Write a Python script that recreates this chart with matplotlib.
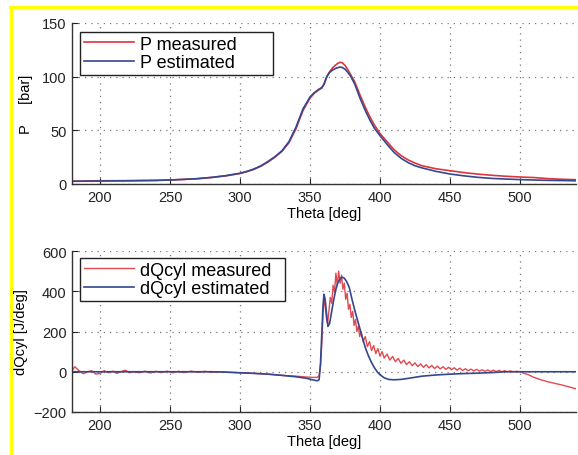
import numpy as np
import matplotlib
matplotlib.use('Agg')
import matplotlib.pyplot as plt
from matplotlib.lines import Line2D

plt.rcParams['font.family'] = ['Liberation Sans', 'DejaVu Sans']

# top plot: cylinder pressure [bar] vs crank angle [deg]
theta_p = [180, 200, 220, 240, 250, 260, 270, 280, 290, 300, 305, 310, 315, 320,
           325, 330, 335, 340, 345, 350, 353, 356, 358.5, 360, 362, 364, 366, 368,
           370, 371.5, 373, 375, 377, 379, 382, 386, 390, 393, 396, 400, 405, 410,
           415, 420, 425, 430, 440, 450, 460, 470, 480, 490, 500, 510, 520, 530, 540]
p_meas = [2.6, 3.0, 3.1, 3.4, 3.8, 4.3, 5.0, 6.1, 7.6, 9.8, 11.5, 13.7, 16.6, 20.5,
          25.0, 30.5, 38.5, 51.5, 68.5, 80.0, 84.5, 87.5, 89.5, 93.0, 100.0, 104.5, 108.0, 110.5,
          112.5, 113.4, 113.0, 110.5, 106.5, 102.0, 95.0, 82.0, 70.0, 62.0, 55.0, 47.0, 39.5, 32.0,
          26.5, 22.5, 19.5, 17.0, 14.2, 12.4, 10.6, 9.2, 8.1, 7.2, 6.5, 6.0, 5.0, 4.4, 4.0]
p_est = [2.5, 2.8, 3.0, 3.3, 3.7, 4.3, 5.0, 6.2, 7.8, 10.0, 11.8, 14.0, 17.0, 21.0,
         25.5, 31.0, 39.5, 53.0, 70.0, 81.0, 85.0, 88.0, 90.0, 93.0, 100.0, 104.0, 106.0, 107.5,
         108.5, 109.0, 108.5, 107.0, 104.0, 100.5, 93.0, 79.0, 67.0, 59.0, 52.0, 45.0, 37.0, 29.5,
         24.0, 20.0, 17.0, 15.0, 11.8, 9.3, 7.6, 6.2, 5.2, 4.6, 4.1, 3.7, 3.4, 3.2, 3.0]

# bottom plot: heat release rate [J/deg]
theta_qe = [180, 200, 220, 240, 260, 280, 290, 300, 310, 320, 330, 340, 347, 352, 355,
            356.5, 357.5, 358.5, 359.3, 360, 360.8, 361.8, 362.8, 364, 365.5, 367, 368.5,
            370, 371.5, 373, 374.5, 376, 378, 380, 382, 384, 386, 388, 390, 392, 394, 396,
            398, 400, 403, 406, 410, 415, 420, 430, 440, 450, 460, 470, 480, 490, 500, 520, 540]
dq_est = [0, 0, 0, 0, 0, 0, -2, -5, -8, -12, -18, -25, -32, -40, -45,
          -40, 40, 200, 330, 385, 360, 290, 225, 240, 300, 360, 410,
          445, 462, 470, 465, 450, 420, 360, 305, 255, 205, 155, 110, 75, 45, 20,
          0, -15, -30, -38, -40, -38, -33, -22, -16, -12, -9, -7, -4, 0, 0, 0, 0]

theta_qm = [180, 182, 185, 188, 191, 194, 197, 200, 203, 206, 209, 212, 215, 218, 221,
            224, 228, 232, 236, 240, 244, 248, 252, 256, 260, 265, 270, 275, 280, 285,
            290, 300, 310, 320, 330, 340, 347, 352, 355, 356.5, 357.5, 358.5, 359.3, 360,
            360.8, 361.8, 362.5, 363.5, 364.5, 365.5, 366.5, 367.5, 368.5, 369.5, 370.5,
            371.5, 372.5, 373.5, 374.5, 375.5, 376.5, 377.5, 378.5, 379.5, 380.5, 381.5,
            382.5, 383.5, 384.5, 385.5, 386.5, 388, 389.5, 391, 392.5, 394, 395.5, 397,
            398.5, 400, 401.5, 403, 405, 407, 409, 411, 413, 415, 417, 419, 421, 423, 425,
            427, 429, 431, 433, 435, 437, 439, 441, 443, 445, 447, 449, 451, 453, 455, 457,
            459, 461, 463, 465, 467, 469, 471, 473, 475, 477, 479, 481, 483, 485, 487, 489,
            491, 493, 495, 498, 500, 503, 506, 510, 515, 520, 525, 530, 535, 540]
dq_meas = [5, 25, 5, -10, 0, 5, -12, -8, 5, -5, 3, -8, 0, 8, -5,
           0, -5, 3, -6, 2, -4, 3, -5, 2, -4, 3, -3, 2, -3, 0,
           -2, -5, -8, -12, -18, -22, -26, -28, -28, -20, 30, 150, 290, 355,
           330, 260, 240, 300, 370, 340, 430, 395, 490, 430, 500,
           440, 480, 410, 440, 360, 390, 310, 335, 270, 300, 230,
           260, 200, 225, 175, 200, 150, 175, 125, 150, 105, 130, 90,
           115, 78, 100, 68, 88, 58, 76, 50, 66, 42, 58, 36, 50, 30, 44,
           26, 39, 22, 35, 19, 31, 16, 28, 14, 25, 12, 22, 10, 20, 8, 18,
           6, 15, 5, 13, 4, 12, 3, 10, 2, 9, 1, 8, 1, 7, 0, 5,
           0, 4, 0, 2, 0, -8, -15, -28, -40, -50, -58, -66, -75, -85]

red = '#d9363e'
blue = '#34478f'

fig = plt.figure(figsize=(5.78, 4.56), dpi=100)
ax1 = fig.add_axes([72/578, 1-185/456, 504/578, 161/456])
ax2 = fig.add_axes([72/578, 1-413/456, 504/578, 161/456])

ax1.plot(theta_p, p_meas, color=red, lw=1.2, label='P measured')
ax1.plot(theta_p, p_est, color=blue, lw=1.2, label='P estimated')
ax1.set_ylim(0, 150)
ax1.set_yticks([0, 50, 100, 150])
ax1.set_ylabel('P     [bar]', fontsize=10.5, labelpad=6)

ax2.plot(theta_qm, dq_meas, color='#e04a50', lw=1.0, label='dQcyl measured')
ax2.plot(theta_qe, dq_est, color=blue, lw=1.2, label='dQcyl estimated')
ax2.set_ylim(-200, 600)
ax2.set_yticks([-200, 0, 200, 400, 600])
ax2.set_yticklabels(['\u2212200', '0', '200', '400', '600'])
ax2.set_ylabel('dQcyl [J/deg]', fontsize=10.5)

# legend boxes: (top offset px, width px, height px)
for ax, top_off, w, h in ((ax1, 9, 193, 41), (ax2, 7, 205, 44)):
    ax.set_xlim(180, 540)
    ax.set_xticks([200, 250, 300, 350, 400, 450, 500])
    ax.set_xlabel('Theta [deg]', fontsize=10.5, labelpad=2)
    ax.grid(True, ls=(0, (1, 4)), color='#777777', lw=0.9)
    ax.spines['top'].set_visible(False)
    ax.spines['right'].set_visible(False)
    for s in ('left', 'bottom'):
        ax.spines[s].set_color('#333333')
        ax.spines[s].set_linewidth(1.0)
    ax.tick_params(direction='in', length=4, labelsize=10.5, colors='#222222', pad=4)
    y1 = 1 - top_off/161
    leg = ax.legend(loc='upper left', bbox_to_anchor=(8/504, y1 - h/161, w/504, h/161),
                    mode='expand', borderaxespad=0, fontsize=13, handlelength=2.8,
                    handletextpad=0.3, labelspacing=0.1, borderpad=0.2,
                    fancybox=False, edgecolor='#222222', framealpha=1)
    leg.get_frame().set_linewidth(1.0)

# yellow frame on left and top
fig.add_artist(Line2D([10/578, 1], [1-8/456, 1-8/456], color='#ffff00', lw=2.2))
fig.add_artist(Line2D([11/578, 11/578], [1-8/456, 1-455/456], color='#ffff00', lw=2.2))

fig.savefig('out.png', dpi=100)
